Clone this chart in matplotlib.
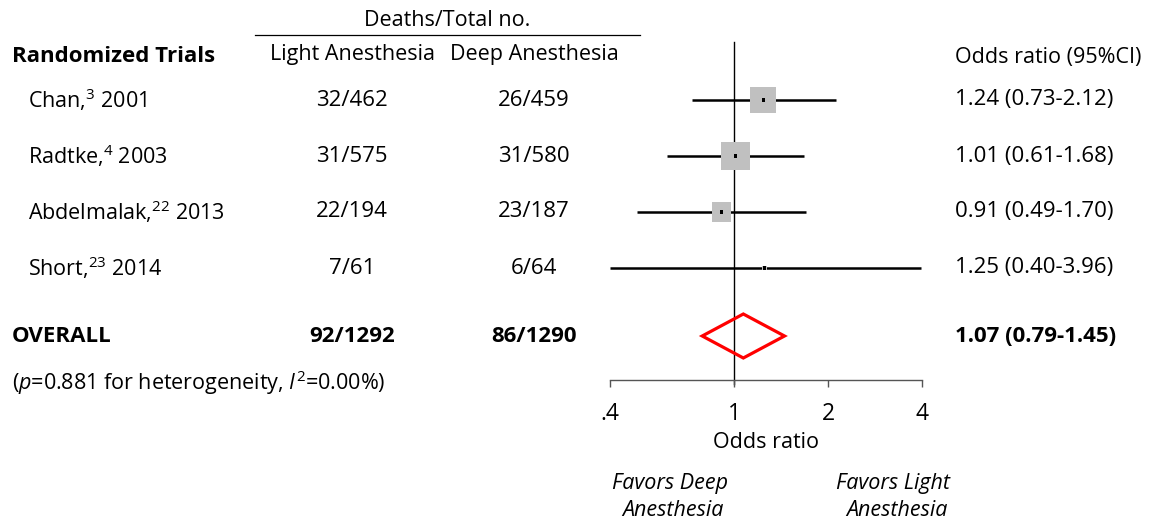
import numpy as np
import matplotlib
matplotlib.use("Agg")
import matplotlib.pyplot as plt

FONT = 'Open Sans'
plt.rcParams['font.family'] = [FONT, 'DejaVu Sans']
plt.rcParams['mathtext.fontset'] = 'custom'
plt.rcParams['mathtext.rm'] = FONT
plt.rcParams['mathtext.it'] = FONT + ':italic'
plt.rcParams['mathtext.bf'] = FONT + ':bold'

# ---- data ----
study_names = ["Chan,$^{3}$ 2001", "Radtke,$^{4}$ 2003",
               "Abdelmalak,$^{22}$ 2013", "Short,$^{23}$ 2014"]
light_counts = ["32/462", "31/575", "22/194", "7/61"]
deep_counts = ["26/459", "31/580", "23/187", "6/64"]
odds_ratio = [1.24, 1.01, 0.91, 1.25]
ci_low = [0.73, 0.61, 0.49, 0.40]
ci_high = [2.12, 1.68, 1.70, 3.96]
weights = [35.6, 44.2, 19.0, 1.3]
overall_label = "OVERALL"
overall_light = "92/1292"
overall_deep = "86/1290"
overall_or = 1.07
overall_low = 0.79
overall_high = 1.45
x_ticks = [0.4, 1, 2, 4]
x_tick_labels = [".4", "1", "2", "4"]

W, H = 1156, 519
FS = 15.5
fig = plt.figure(figsize=(W / 100, H / 100), dpi=100)


def ftxt(x, y, s, **kw):
    kw.setdefault('fontsize', FS)
    kw.setdefault('va', 'center')
    fig.text(x / W, 1 - y / H, s, **kw)


# headers
ftxt(447, 20, "Deaths/Total no.", ha='center')
fig.add_artist(plt.Line2D([255 / W, 640 / W], [1 - 35 / H, 1 - 35 / H],
                          color='black', lw=0.9))
ftxt(12, 56, "Randomized Trials", fontweight='bold', fontsize=16)
ftxt(352, 54, "Light Anesthesia", ha='center')
ftxt(534, 54, "Deep Anesthesia", ha='center')
ftxt(955, 57, "Odds ratio (95%CI)")

row_y = [100 + 56 * i for i in range(len(study_names))]
overall_y = 336

for i, y in enumerate(row_y):
    ftxt(28, y, study_names[i])
    ftxt(352, y, light_counts[i], ha='center', fontsize=16)
    ftxt(534, y, deep_counts[i], ha='center', fontsize=16)
    ftxt(955, y, f"{odds_ratio[i]:.2f} ({ci_low[i]:.2f}-{ci_high[i]:.2f})",
         fontsize=16)

ftxt(12, overall_y, overall_label, fontweight='bold', fontsize=16)
ftxt(352, overall_y, overall_light, ha='center', fontweight='bold', fontsize=16)
ftxt(534, overall_y, overall_deep, ha='center', fontweight='bold', fontsize=16)
ftxt(955, overall_y, f"{overall_or:.2f} ({overall_low:.2f}-{overall_high:.2f})",
     fontweight='bold', fontsize=16)
ftxt(12, 383, "($p$=0.881 for heterogeneity, $I^{2}$=0.00%)")

# forest axes
x0, x1 = 610, 922
ax = fig.add_axes([x0 / W, 0, (x1 - x0) / W, 1])
ax.set_xscale('log')
ax.set_xlim(0.4, 4)
ax.set_ylim(H, 0)
ax.patch.set_alpha(0)
for s in ['top', 'left', 'right']:
    ax.spines[s].set_visible(False)
ax.spines['bottom'].set_position(('data', 380))
ax.spines['bottom'].set_color('#555555')
ax.spines['bottom'].set_linewidth(1.0)
ax.set_yticks([])
ax.set_xticks(x_ticks)
ax.set_xticklabels(x_tick_labels, fontsize=16.5)
ax.xaxis.set_minor_locator(matplotlib.ticker.NullLocator())
ax.tick_params(axis='x', direction='out', length=5, width=1.0,
               color='#555555', pad=11)
ax.set_xlabel("Odds ratio", fontsize=FS)
ax.xaxis.set_label_coords(0.5, 1 - 442 / H, transform=ax.transAxes)
ax.xaxis.label.set_va('center')

# reference line at 1
ax.plot([1, 1], [42, 384], color='black', lw=1.0, zorder=1, clip_on=False)

k = 4.36 * 0.72  # marker side in points per sqrt(weight)
for i, y in enumerate(row_y):
    ax.plot([ci_low[i], ci_high[i]], [y, y], color='black', lw=1.8,
            zorder=2, solid_capstyle='butt', clip_on=False)
    side = k * np.sqrt(weights[i])
    ax.scatter([odds_ratio[i]], [y], marker='s', s=side ** 2,
               color='#c0c0c0', edgecolor='none', zorder=3, clip_on=False)
    ax.scatter([odds_ratio[i]], [y], marker='s', s=2.2 ** 2,
               color='black', edgecolor='none', zorder=4, clip_on=False)

# overall diamond
half_h = 22
ax.fill([overall_low, overall_or, overall_high, overall_or, overall_low],
        [overall_y, overall_y - half_h, overall_y, overall_y + half_h, overall_y],
        facecolor='none', edgecolor='#ff0000', lw=2.3, zorder=3,
        joinstyle='miter')

# favors labels
ftxt(612, 483, "Favors Deep", style='italic')
ftxt(622, 510, "Anesthesia", style='italic')
ftxt(950, 483, "Favors Light", style='italic', ha='right')
ftxt(948, 510, "Anesthesia", style='italic', ha='right')

fig.savefig("out.png", dpi=100)
